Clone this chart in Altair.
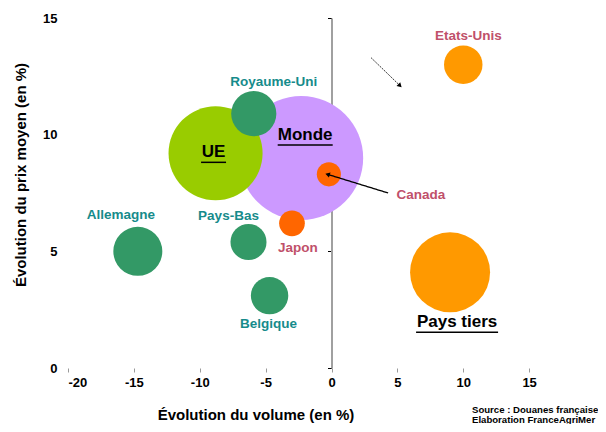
import altair as alt
import pandas as pd

# ---- data ----
noms = ["Monde", "UE", "Pays tiers", "Royaume-Uni", "Allemagne", "Pays-Bas",
        "Belgique", "Etats-Unis", "Canada", "Japon"]
volume = [-2.3, -8.8, 9.0, -5.9, -14.7, -6.3, -4.7, 10.0, -0.2, -3.0]   # évolution du volume (%)
prix = [9.0, 9.2, 4.1, 10.9, 5.0, 5.4, 3.1, 13.0, 8.3, 6.2]            # évolution du prix moyen (%)
valeur = [3840, 2210, 1600, 510, 600, 325, 350, 370, 145, 165]         # taille des bulles
groupe = ["monde", "ue", "tiers", "ue_pays", "ue_pays", "ue_pays",
          "ue_pays", "tiers_pays", "tiers_pays2", "tiers_pays2"]

x_ticks = [-20, -15, -10, -5, 0, 5, 10, 15]
y_ticks = [0, 5, 10, 15]

# label style / placement (pixel offsets from the bubble centre)
lab_dx = [4, -2, 7, 20, -17, -20, -1, 5, 92, 6]
lab_dy = [-23, -1, 50, -32, -36, -26, 28, -29, 21, 25]
lab_kind = ["main", "main", "main", "ue", "ue", "ue", "ue", "tiers", "tiers", "tiers"]

# arrows (data coordinates)
arr_x = [4.3, 3.0]
arr_y = [7.5, 13.3]
arr_x2 = [-0.3, 5.2]
arr_y2 = [8.3, 12.1]
arr_kind = ["plein", "pointille"]
arr_angle = [288, 135]

source_lines = ["Source : Douanes françaises", "Elaboration FranceAgriMer"]

FONT = "Liberation Sans"

df = pd.DataFrame({"nom": noms, "volume": volume, "prix": prix, "valeur": valeur,
                   "groupe": groupe, "dx": lab_dx, "dy": lab_dy, "kind": lab_kind})
arr = pd.DataFrame({"x": arr_x, "y": arr_y, "x2": arr_x2, "y2": arr_y2,
                    "kind": arr_kind, "angle": arr_angle})

xs = alt.Scale(domain=[-20, 20], nice=False, zero=False)
ys = alt.Scale(domain=[0, 15], nice=False, zero=False)

x_enc = alt.X("volume:Q", scale=xs, axis=alt.Axis(
    values=x_ticks, title="Évolution du volume (en %)", domain=False, grid=False,
    ticks=True, tickColor="#9a9a9a", tickSize=4, labelPadding=4,
    labelExpr="datum.value < 0 ? '-' + abs(datum.value) : '' + datum.value",
    labelFont=FONT, labelFontWeight="bold", labelFontSize=13, labelColor="black",
    titleFont=FONT, titleFontWeight="bold", titleFontSize=15, titleColor="black",
    titleX=187.5, titleY=46, titleBaseline="middle", titleAlign="center", titleAnchor="start"))
y_enc = alt.Y("prix:Q", scale=ys, axis=alt.Axis(
    values=y_ticks, orient="left", title="Évolution du prix moyen (en %)", domain=False,
    grid=False, ticks=False, labelPadding=11,
    labelFont=FONT, labelFontWeight="bold", labelFontSize=13, labelColor="black",
    titleFont=FONT, titleFontWeight="bold", titleFontSize=15, titleColor="black",
    titleX=-48, titleY=156.5, titleBaseline="middle", titleAlign="center", titleAngle=-90))

X = lambda f: alt.X(f, scale=xs)
Y = lambda f: alt.Y(f, scale=ys, axis=None)

color_scale = alt.Scale(
    domain=["monde", "ue", "tiers", "ue_pays", "tiers_pays", "tiers_pays2"],
    range=["#CC99FF", "#99CC00", "#FF9900", "#339966", "#FF9900", "#FF6600"])

bubbles = alt.Chart(df).mark_circle(opacity=1).encode(
    x=x_enc, y=y_enc,
    size=alt.Size("valeur:Q", scale=alt.Scale(domain=[0, 4000], range=[0, 16000]), legend=None),
    color=alt.Color("groupe:N", scale=color_scale, legend=None),
    order=alt.Order("valeur:Q", sort="descending"),
)

# zero axis (vertical line at x = 0)
zero_axis = alt.Chart(df).mark_point(opacity=0).encode(
    x=X("volume:Q"),
    y=alt.Y("prix:Q", scale=ys, axis=alt.Axis(
        values=y_ticks, orient="left", offset=-263.5, labels=False, title=None,
        grid=False, domain=True, domainColor="#a0a0a0", domainWidth=2,
        ticks=True, tickColor="black", tickSize=4, tickWidth=1)),
)

def labels(kind, color, size):
    d = df[df["kind"] == kind]
    layers = []
    for _, r in d.iterrows():
        layers.append(alt.Chart(pd.DataFrame([r])).mark_text(
            font=FONT, fontWeight="bold", fontSize=size, color=color,
            dx=int(r["dx"]), dy=int(r["dy"]), baseline="middle", align="center"
        ).encode(x=X("volume:Q"), y=Y("prix:Q"), text="nom:N"))
    return layers

main_lab = labels("main", "black", 17)
ue_lab = labels("ue", "#168B8B", 13.5)
tiers_lab = labels("tiers", "#C0506A", 13.5)

# underline for the main labels
under_w = {"Monde": 55, "UE": 25, "Pays tiers": 82}
under_layers = []
for _, r in df[df["kind"] == "main"].iterrows():
    w = under_w[r["nom"]]
    under_layers.append(alt.Chart(pd.DataFrame([r])).mark_rule(
        color="black", strokeWidth=1.5,
        xOffset=int(r["dx"]) - w / 2, x2Offset=int(r["dx"]) + w / 2,
        yOffset=int(r["dy"]) + 10).encode(
        x=X("volume:Q"), x2=alt.X2("volume:Q"), y=Y("prix:Q")))

arrows = alt.Chart(arr).mark_rule(color="black").encode(
    x=X("x:Q"), y=Y("y:Q"),
    x2="x2:Q", y2="y2:Q",
    strokeDash=alt.StrokeDash("kind:N", scale=alt.Scale(
        domain=["plein", "pointille"], range=[[1, 0], [2, 1]]), legend=None),
    strokeWidth=alt.StrokeWidth("kind:N", scale=alt.Scale(
        domain=["plein", "pointille"], range=[1.3, 0.8]), legend=None),
)
heads = alt.Chart(arr).mark_point(shape="triangle-up", filled=True, color="black",
                                  opacity=1, size=28).encode(
    x=X("x2:Q"), y=Y("y2:Q"),
    angle=alt.Angle("angle:Q", scale=None),
)

source1 = alt.Chart(pd.DataFrame({"t": [source_lines[0]]})).mark_text(
    font=FONT, fontWeight="bold", fontSize=9.6, color="black", align="left",
    baseline="middle").encode(x=alt.value(404), y=alt.value(392), text="t:N")
source2 = alt.Chart(pd.DataFrame({"t": [source_lines[1]]})).mark_text(
    font=FONT, fontWeight="bold", fontSize=9.6, color="black", align="left",
    baseline="middle").encode(x=alt.value(404), y=alt.value(402), text="t:N")

chart = alt.layer(
    bubbles, zero_axis, arrows, heads, *under_layers, *main_lab, *ue_lab, *tiers_lab,
    source1, source2
).resolve_axis(y="independent").properties(
    width=527, height=350,
    autosize=alt.AutoSizeParams(type="none"),
    padding={"left": 60, "top": 10, "right": 3, "bottom": 56},
    background="white",
).configure_view(stroke=None)

chart.save("out.html", embed_options={"renderer": "svg", "actions": False})
